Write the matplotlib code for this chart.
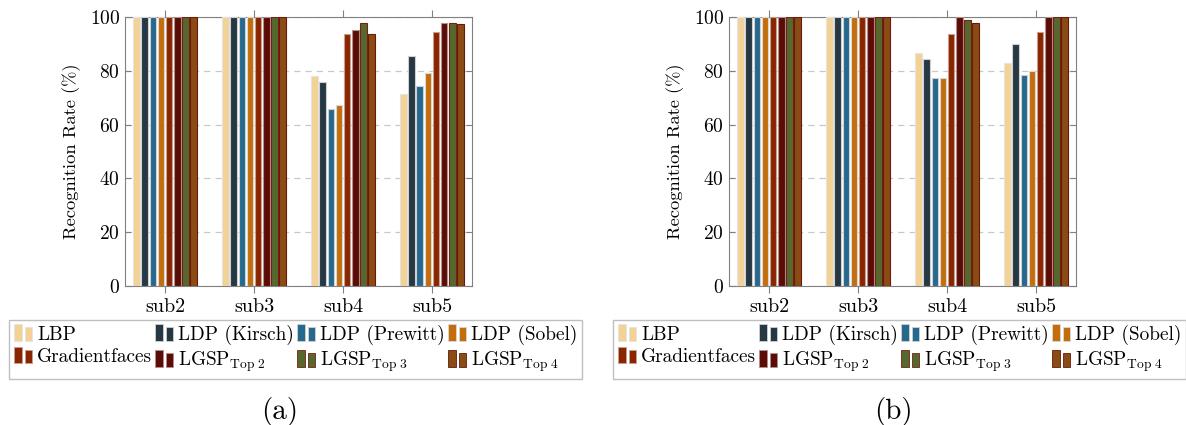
import matplotlib.pyplot as plt
from matplotlib.legend_handler import HandlerBase
from matplotlib.patches import Rectangle
from matplotlib.container import BarContainer
import numpy as np

# Data
categories = ['sub2', 'sub3', 'sub4', 'sub5']
methods = ['LBP', 'LDP (Kirsch)', 'LDP (Prewitt)', 'LDP (Sobel)', 'Gradientfaces',
           r'LGSP$_{\mathrm{Top\ 2}}$', r'LGSP$_{\mathrm{Top\ 3}}$', r'LGSP$_{\mathrm{Top\ 4}}$']

# rows = methods, columns = categories
rates_a = [
    [100, 100, 78.1, 71.2],
    [100, 100, 75.8, 85.5],
    [100, 100, 65.8, 74.4],
    [100, 100, 67.3, 79.2],
    [100, 100, 93.7, 94.5],
    [100, 100, 95.3, 97.9],
    [100, 100, 97.9, 97.9],
    [100, 100, 93.7, 97.5],
]
rates_b = [
    [100, 100, 86.6, 82.8],
    [100, 100, 84.5, 90.1],
    [100, 100, 77.3, 78.4],
    [100, 100, 77.3, 80.1],
    [100, 100, 93.8, 94.4],
    [100, 100, 100, 100],
    [100, 100, 98.8, 100],
    [100, 100, 97.9, 100],
]

fills = ['#f3d296', '#253843', '#26698f', '#c46e0b', '#8b2500', '#5a0c05', '#55692f', '#8a4b14']
edges = ['#e4e4e4', '#d0d0d0', '#d0d0d0', '#d8d8d8', '#c8a090', '#b09090', '#7a1f12', '#6a1a0a']

plt.rcParams['font.family'] = 'serif'
plt.rcParams['font.serif'] = ['cmr10', 'DejaVu Serif']
plt.rcParams['mathtext.fontset'] = 'cm'
plt.rcParams['axes.formatter.use_mathtext'] = True
plt.rcParams['axes.unicode_minus'] = False


class TwoBarHandler(HandlerBase):
    # pgfplots style legend: two small bars
    def create_artists(self, legend, orig_handle, xdescent, ydescent, width, height, fontsize, trans):
        p = orig_handle.patches[0]
        fc = p.get_facecolor()
        ec = p.get_edgecolor()
        bw = width * 0.42
        h = height * 1.25
        y0 = -ydescent - height * 0.1
        r1 = Rectangle((-xdescent, y0), bw, h, facecolor=fc, edgecolor=ec, lw=0.6, transform=trans)
        r2 = Rectangle((-xdescent + width * 0.6, y0), bw * 0.85, h * 0.82, facecolor=fc, edgecolor=ec, lw=0.6, transform=trans)
        return [r1, r2]


def draw_panel(ax, rates):
    x = np.arange(len(categories))
    pitch = 0.0915
    for i, vals in enumerate(rates):
        offset = (i - (len(rates) - 1) / 2) * pitch
        ax.bar(x + offset, vals, width=0.074, color=fills[i], edgecolor=edges[i],
               linewidth=0.8, label=methods[i], zorder=3)
    ax.set_xlim(-0.45, 3.45)
    ax.set_ylim(0, 100)
    ax.set_xticks(x)
    ax.set_xticklabels(categories, fontsize=14.5)
    ax.set_yticks(np.arange(0, 101, 20))
    ax.tick_params(axis='y', direction='in', left=True, right=True, labelsize=14, length=4, color='#808080')
    ax.tick_params(axis='x', direction='out', top=True, bottom=True, length=5, color='#808080')
    ax.yaxis.grid(True, linestyle=(0, (5, 4)), color='#c8c8c8', linewidth=0.9, zorder=0)
    ax.set_axisbelow(True)
    for sp in ax.spines.values():
        sp.set_color('#808080')
    ax.set_ylabel('Recognition Rate (%)', fontsize=13.3, labelpad=6)


fig = plt.figure(figsize=(11.86, 4.25), dpi=100)
ax_a = fig.add_axes([0.1054, 0.327, 0.2926, 0.633])
ax_b = fig.add_axes([0.6147, 0.327, 0.2926, 0.633])

# matplotlib fills legend columns first; reorder so entries read row by row
order = [0, 4, 1, 5, 2, 6, 3, 7]

for ax, rates, x_leg, tag, x_tag in [(ax_a, rates_a, 9 / 1186, '(a)', 280 / 1186),
                                     (ax_b, rates_b, 613 / 1186, '(b)', 893 / 1186)]:
    draw_panel(ax, rates)
    handles, labels = ax.get_legend_handles_labels()
    handles = [handles[k] for k in order]
    labels = [labels[k] for k in order]
    leg = fig.legend(handles, labels, loc='upper left', bbox_to_anchor=(x_leg, 1 - 320 / 425),
                     ncol=4, fontsize=13.9, frameon=True, fancybox=False, edgecolor='#b0b0b0',
                     handler_map={BarContainer: TwoBarHandler()},
                     handlelength=1.0, handletextpad=0.2, columnspacing=0.15,
                     labelspacing=0.22, borderpad=0.25, borderaxespad=0)
    leg.get_frame().set_linewidth(1.0)
    fig.text(x_tag, 1 - 412 / 425, tag, ha='center', va='center', fontsize=21)

fig.savefig('out.png', dpi=100)
